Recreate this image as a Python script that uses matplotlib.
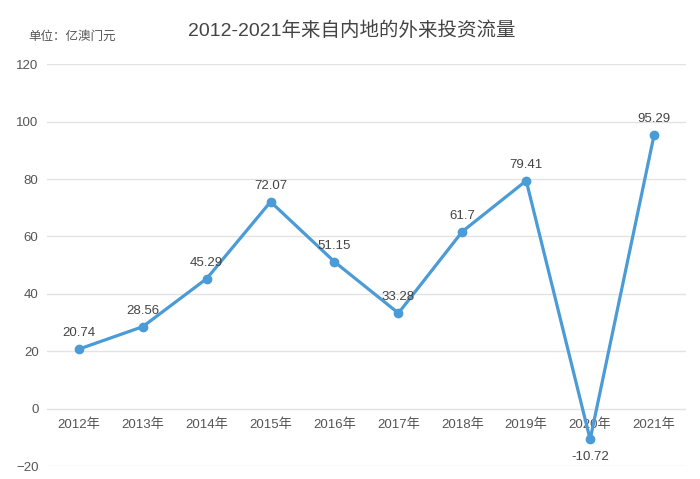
import matplotlib.pyplot as plt

plt.rcParams['font.family'] = ['Liberation Sans', 'Noto Sans CJK SC', 'DejaVu Sans']

years = ["2012年", "2013年", "2014年", "2015年", "2016年",
         "2017年", "2018年", "2019年", "2020年", "2021年"]
flow = [20.74, 28.56, 45.29, 72.07, 51.15, 33.28, 61.7, 79.41, -10.72, 95.29]
flow_labels = ["20.74", "28.56", "45.29", "72.07", "51.15",
               "33.28", "61.7", "79.41", "-10.72", "95.29"]
y_ticks = [-20, 0, 20, 40, 60, 80, 100, 120]


def main():
    fig = plt.figure(figsize=(7, 4.79), dpi=100)
    ax = fig.add_axes([0.067, 0.027, 0.913, 0.839])
    x = list(range(len(years)))

    ax.plot(x, flow, color="#4a9bd6", linewidth=2.3, marker="o",
            markersize=6, zorder=3)
    for xi, v, s in zip(x, flow, flow_labels):
        if v < 0:
            ax.annotate(s, (xi, v), xytext=(0, -8), textcoords="offset points",
                        ha="center", va="top", fontsize=9.5, color="#444444")
        else:
            ax.annotate(s, (xi, v), xytext=(0, 7), textcoords="offset points",
                        ha="center", va="bottom", fontsize=9.5, color="#444444")

    ax.set_xlim(-0.5, len(years) - 0.5)
    ax.set_ylim(-20, 120)
    ax.set_yticks(y_ticks)
    ax.set_xticks(x)
    ax.set_xticklabels(years)
    ax.yaxis.grid(True, color="#e3e3e3", linewidth=1)
    ax.set_axisbelow(True)
    for side in ["top", "right", "left"]:
        ax.spines[side].set_visible(False)
    ax.spines["bottom"].set_position(("data", 0))
    ax.spines["bottom"].set_visible(False)
    ax.tick_params(axis="both", length=0, labelsize=9.5, colors="#555555")
    ax.tick_params(axis="x", pad=7)
    ax.tick_params(axis="y", pad=6)

    fig.text(0.503, 0.935, "2012-2021年来自内地的外来投资流量",
             ha="center", va="center", fontsize=14, color="#444444")
    fig.text(0.04, 0.924, "单位：亿澳门元", ha="left", va="center",
             fontsize=9, color="#555555")

    plt.savefig("out.png")


if __name__ == "__main__":
    main()
